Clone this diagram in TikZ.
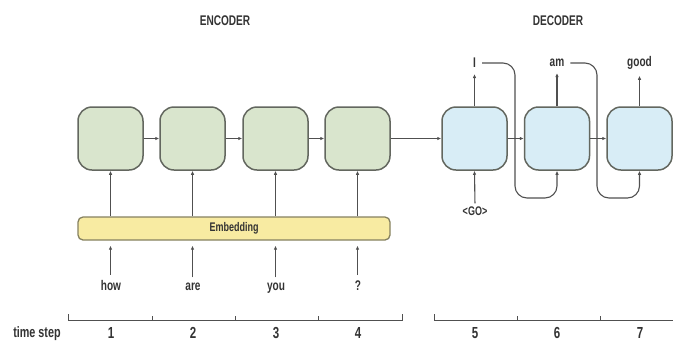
\documentclass[tikz,border=0pt]{standalone}
\usepackage{fontspec}
\setmainfont{Liberation Sans}[FakeStretch=0.72]
\usetikzlibrary{arrows.meta}
\definecolor{encfill}{HTML}{D9E5CD}
\definecolor{decfill}{HTML}{D8EDF6}
\definecolor{embfill}{HTML}{F8EBA2}
\definecolor{boxline}{HTML}{63675F}
\definecolor{embline}{HTML}{858160}
\definecolor{txt}{HTML}{333333}
\definecolor{lin}{HTML}{505050}
\begin{document}
\begin{tikzpicture}[x=1pt,y=-1pt,
  cell/.style={draw=boxline,line width=1.5pt,rounded corners=14pt,minimum width=65pt,minimum height=63pt,inner sep=0pt},
  enc/.style={cell,fill=encfill},
  dec/.style={cell,fill=decfill},
  lbl/.style={text=txt,font=\bfseries\fontsize{14}{14}\selectfont,inner sep=1pt},
  arr/.style={draw=lin,line width=1.1pt,-{Latex[length=4pt,width=3.5pt]}},
  ax/.style={draw=lin,line width=0.9pt}]
\useasboundingbox (0,0) rectangle (673,341);
% titles
\node[lbl] (tenc) at (225,21) {ENCODER};
\node[lbl] (tdec) at (558,21) {DECODER};
% encoder cells
\node[enc] (e1) at (110.5,138.5) {};
\node[enc] (e2) at (192.5,138.5) {};
\node[enc] (e3) at (275.5,138.5) {};
\node[enc] (e4) at (357.5,138.5) {};
% decoder cells
\node[dec] (d1) at (474.5,138.5) {};
\node[dec] (d2) at (557,138.5) {};
\node[dec] (d3) at (639.5,138.5) {};
% horizontal connectors
\draw[arr] (e1.east) -- (e2.west);
\draw[arr] (e2.east) -- (e3.west);
\draw[arr] (e3.east) -- (e4.west);
\draw[arr] (e4.east) -- (d1.west);
\draw[arr] (d1.east) -- (d2.west);
\draw[arr] (d2.east) -- (d3.west);
% embedding
\node[draw=embline,fill=embfill,line width=1.3pt,rounded corners=5pt,minimum width=312pt,minimum height=23pt,inner sep=0pt,
  text=txt,font=\bfseries\fontsize{12.5}{12.5}\selectfont] (emb) at (234,228.5) {Embedding};
\foreach \i in {1,...,4}{\draw[arr] (e\i |- emb.north) -- (e\i.south);}
% input words
\node[lbl,anchor=base] (w1) at (111,290) {how};
\node[lbl,anchor=base] (w2) at (193,290) {are};
\node[lbl,anchor=base] (w3) at (276,290) {you};
\node[lbl,anchor=base] (w4) at (358,290) {?};
\foreach \i in {1,...,4}{\draw[arr,shorten <=4pt,shorten >=5pt] (w\i.north -| e\i) -- (e\i |- emb.south);}
% decoder outputs
\node[lbl] (o1) at (474.5,63) {I};
\node[lbl] (o2) at (557,63) {am};
\node[lbl] (o3) at (639.5,63) {good};
\draw[arr,shorten >=5pt] (d1.north) -- (o1.south);
\draw[arr,shorten >=5pt] (d2.north) -- (o2.south);
\draw[arr,shorten >=5pt] (d3.north) -- (o3.south);
% GO input
\node[lbl,font=\bfseries\fontsize{12.5}{12.5}\selectfont] (go) at (475,211) {<GO>};
\draw[arr,shorten <=2pt] (go.north) -- (d1.south);
% feedback loops
\coordinate (f1) at (515,198);
\coordinate (f2) at (597,198);
\draw[arr,rounded corners=12pt,shorten <=5pt] (o1.east) -| (f1) -| (d2.south);
\draw[arr,rounded corners=12pt,shorten <=5pt] (o2.east) -| (f2) -| (d3.south);
% time axis
\node[lbl,anchor=base,font=\bfseries\fontsize{15}{15}\selectfont] (ts) at (37,337) {time step};
\draw[ax] (68,314) -- (68,320) -- (402,320) -- (402,314);
\foreach \x in {152,235,318}{\draw[ax] (\x,316) -- (\x,320);}
\draw[ax] (434,314) -- (434,320) -- (673,320);
\foreach \x in {517,600}{\draw[ax] (\x,316) -- (\x,320);}
\foreach \x/\n in {111/1,193/2,276/3,358/4,475/5,557/6,640/7}{
  \node[lbl,anchor=base,font=\bfseries\fontsize{16}{16}\selectfont] (n\n) at (\x,338) {\n};}
\end{tikzpicture}
\end{document}
